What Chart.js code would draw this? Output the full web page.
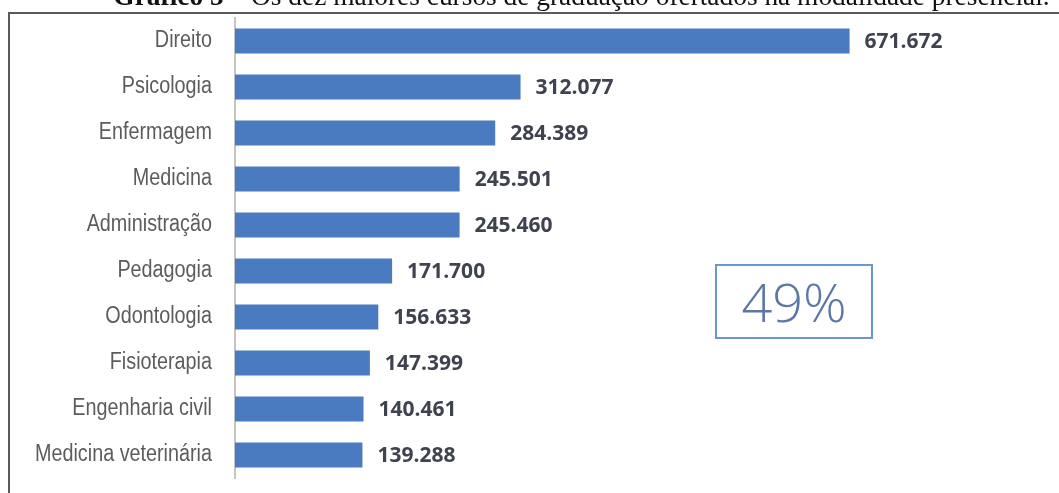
<!DOCTYPE html>
<html>
<head>
<meta charset="utf-8">
<script src="https://cdn.jsdelivr.net/npm/chart.js@4/dist/chart.umd.min.js"></script>
<style>
  html, body { margin: 0; padding: 0; background: #fff; }
  body { width: 1059px; height: 493px; position: relative; overflow: hidden; }
  #wrap { position: absolute; left: 0; top: 0; width: 1059px; height: 493px; }
  .title {
    position: absolute; left: 0; width: 1059px; top: -17px; line-height: 27px;
    text-align: center; font-family: "Liberation Serif", serif; font-size: 27.4px; color: #111;
    white-space: nowrap; padding-left: 104px; box-sizing: border-box;
  }
  .topline { position: absolute; left: 8px; right: 0; top: 12px; height: 2px; background: #5a5a5a; }
  .leftline { position: absolute; left: 8px; top: 12px; bottom: 0; width: 2px; background: #5a5a5a; }
  .pct {
    position: absolute; left: 715px; top: 264px; width: 158px; height: 75px; box-sizing: border-box;
    border: 2px solid #6b96cf; text-align: center; line-height: 71px;
    font-family: "Open Sans", sans-serif; font-weight: 300; font-size: 54px; color: #5b77a6;
  }
</style>
</head>
<body>
<div id="wrap"><canvas id="cursosChart" width="1059" height="493"></canvas></div>
<div class="title"><b>Gráfico 5</b> – Os dez maiores cursos de graduação ofertados na modalidade presencial.</div>
<div class="topline"></div>
<div class="leftline"></div>
<div class="pct">49%</div>
<script>
const cursos = [
  "Direito", "Psicologia", "Enfermagem", "Medicina", "Administração",
  "Pedagogia", "Odontologia", "Fisioterapia", "Engenharia civil", "Medicina veterinária"
];
const matriculas = [671672, 312077, 284389, 245501, 245460, 171700, 156633, 147399, 140461, 139288];

// formato brasileiro: 671.672
const fmt = (v) => String(v).replace(/\B(?=(\d{3})+(?!\d))/g, ".");

// rótulos das categorias em fonte estreita (não há Arial Narrow instalada)
const narrowLabels = {
  id: "narrowLabels",
  afterDraw(chart) {
    const ctx = chart.ctx;
    const yScale = chart.scales.y;
    ctx.save();
    ctx.font = "23px 'Liberation Sans'";
    ctx.fillStyle = "#5c5c5c";
    ctx.textAlign = "right";
    ctx.textBaseline = "middle";
    cursos.forEach((c, i) => {
      const y = yScale.getPixelForValue(i);
      ctx.save();
      ctx.translate(212, y);
      ctx.scale(0.86, 1);
      ctx.fillText(c, 0, 0);
      ctx.restore();
    });
    ctx.restore();
  }
};

const valueLabels = {
  id: "valueLabels",
  afterDatasetsDraw(chart) {
    const ctx = chart.ctx;
    const meta = chart.getDatasetMeta(0);
    ctx.save();
    ctx.font = "bold 21px 'Open Sans'";
    ctx.fillStyle = "#3f4350";
    ctx.textAlign = "left";
    ctx.textBaseline = "middle";
    meta.data.forEach((bar, i) => {
      ctx.fillText(fmt(matriculas[i]), bar.x + 15, bar.y + 1);
    });
    ctx.restore();
  }
};

const ctx = document.getElementById("cursosChart").getContext("2d");
new Chart(ctx, {
  type: "bar",
  data: {
    labels: cursos,
    datasets: [
      {
        label: "Matrículas",
        data: matriculas,
        backgroundColor: "#4a7bc0",
        borderWidth: 0,
        categoryPercentage: 1,
        barPercentage: 0.54,
      },
    ],
  },
  options: {
    indexAxis: "y",
    responsive: false,
    maintainAspectRatio: false,
    animation: false,
    layout: { padding: { left: 0, top: 18, bottom: 15, right: 92 } },
    plugins: { legend: { display: false }, tooltip: { enabled: false } },
    scales: {
      x: { display: false, min: 0, max: 800000 },
      y: {
        afterFit: (scale) => {
          scale.width = 235;
          scale.paddingTop = 0;
          scale.paddingBottom = 0;
        },
        grid: { display: false, drawTicks: false },
        border: { display: true, color: "#c4c4c4", width: 2 },
        ticks: { display: false },
      },
    },
  },
  plugins: [valueLabels, narrowLabels],
});
</script>
</body>
</html>
